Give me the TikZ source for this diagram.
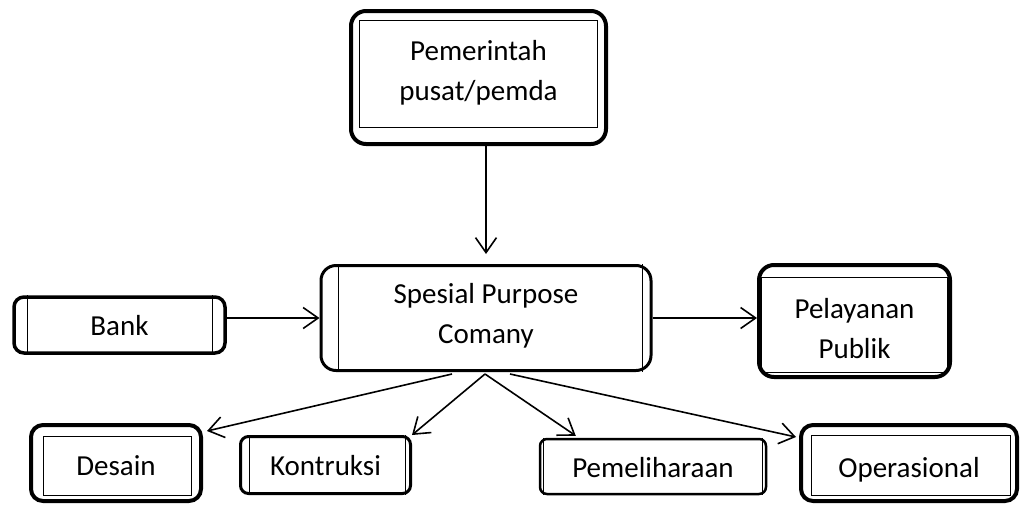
\documentclass[tikz,border=0pt]{standalone}
\usepackage{fontspec}
\setmainfont{Carlito}
\usepackage{tikz}
\usetikzlibrary{arrows.meta,calc}

\begin{document}
\begin{tikzpicture}[
    x=1pt, y=-1pt,
    frame/.style={rectangle, draw, line width=#1, align=center, inner sep=0pt, font=\fontsize{29}{40}\selectfont},
    frame/.default=4pt,
    inner/.style={line width=0.9pt},
    arrow/.style={-{Straight Barb[length=15pt,width=21pt]}, line width=1.6pt}
]
\useasboundingbox (0,0) rectangle (1020,504);
% upper row
\node[frame, rounded corners=15pt, minimum width=255pt, minimum height=133pt, text height=60pt, text depth=15pt] (pem) at (478.5,77.5) {Pemerintah\\pusat/pemda};
\draw[inner] ($(pem.north west)+(10,11)$) rectangle ($(pem.south east)+(-11,-19)$);
\node[frame=3.5pt, rounded corners=10pt, minimum width=211pt, minimum height=56pt, text height=20pt, text depth=0pt] (bank) at (119.5,325) {Bank};
\draw[inner] ($(bank.north west)+(15,0)$) -- ($(bank.south west)+(15,0)$);
\draw[inner] ($(bank.north east)+(-14,0)$) -- ($(bank.south east)+(-14,0)$);
\node[frame=3pt, rounded corners=15pt, minimum width=330pt, minimum height=105pt, text height=50pt, text depth=0pt] (spc) at (486,318) {Spesial Purpose\\Comany};
\draw[inner] ($(spc.north west)+(18.5,0)$) -- ($(spc.south west)+(18.5,0)$);
\draw[inner] ($(spc.north east)+(-10,0)$) -- ($(spc.south east)+(-10,0)$);
\node[frame, rounded corners=15pt, minimum width=191pt, minimum height=112pt, text height=74pt, text depth=0pt] (pel) at (854.5,321) {Pelayanan\\Publik};
\draw[inner] ($(pel.north west)+(4,14)$) rectangle ($(pel.south east)+(-5,-7)$);
% lower row
\node[frame, rounded corners=12pt, minimum width=170pt, minimum height=76pt, text height=24pt, text depth=0pt] (des) at (116,463) {Desain};
\draw[inner] ($(des.north west)+(14,13)$) rectangle ($(des.south east)+(-12,-8)$);
\node[frame=3pt, rounded corners=8pt, minimum width=170pt, minimum height=57pt, text height=20pt, text depth=0pt] (kon) at (325.5,465) {Kontruksi};
\draw[inner] ($(kon.north west)+(10.5,0)$) -- ($(kon.south west)+(10.5,0)$);
\draw[inner] ($(kon.north east)+(-6.5,0)$) -- ($(kon.south east)+(-6.5,0)$);
\node[frame=2.5pt, rounded corners=7pt, minimum width=226pt, minimum height=55pt, text height=21pt, text depth=0pt] (pml) at (653,466.5) {Pemeliharaan};
\draw[inner] ($(pml.north west)+(5,0)$) -- ($(pml.south west)+(5,0)$);
\draw[inner] ($(pml.north east)+(-5,0)$) -- ($(pml.south east)+(-5,0)$);
\node[frame, rounded corners=12pt, minimum width=216pt, minimum height=76pt, text height=28pt, text depth=0pt] (ops) at (909,463) {Operasional};
\draw[inner] ($(ops.north west)+(12,12)$) rectangle ($(ops.south east)+(-9,-8)$);
% connectors
\draw[arrow, shorten >=10pt] (pem.south -| spc.north) -- (spc.north);
\draw[arrow] (bank.east |- spc.west) -- (spc.west);
\draw[arrow] (spc.east) -- (spc.east -| pel.west);
\draw[arrow] ($(spc.south)+(-34,2)$) -- ($(des.north east)+(4,8)$);
\draw[arrow] ($(spc.south)+(-1,2)$) -- (kon.north east);
\draw[arrow] ($(spc.south)+(-1,2)$) -- ($(pml.north west)+(37,-2)$);
\draw[arrow] ($(spc.south)+(24,2)$) -- ($(ops.north west)+(-3,14)$);
\end{tikzpicture}
\end{document}
